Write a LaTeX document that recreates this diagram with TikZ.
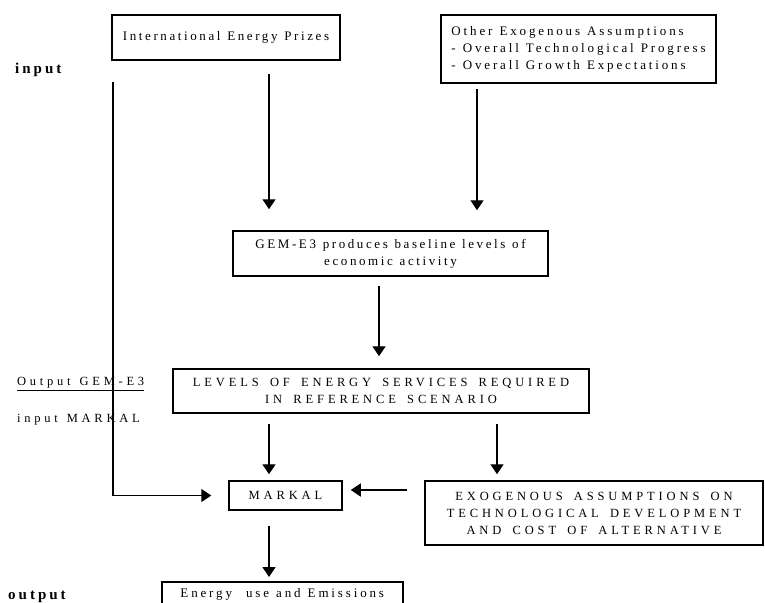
\documentclass[tikz,border=0pt]{standalone}
\usepackage{fontspec}
\setmainfont{Liberation Serif}
\newfontfamily\lsa{Liberation Serif}[LetterSpace=20,WordSpace=1.15]
\newfontfamily\lsb{Liberation Serif}[LetterSpace=22,WordSpace=1.15]
\newfontfamily\lsc{Liberation Serif}[LetterSpace=31,WordSpace=1.6]
\newfontfamily\lsl{Liberation Serif}[LetterSpace=30,WordSpace=1.3]
\usetikzlibrary{arrows.meta}
\begin{document}
\begin{tikzpicture}[x=1pt,y=-1pt,
  box/.style={draw,line width=1.5pt,inner sep=0pt,align=center,font=\lsa\fontsize{13}{17}\selectfont},
  capbox/.style={box,font=\lsc\fontsize{12.5}{17}\selectfont},
  arr/.style={line width=1.4pt,-{Triangle[width=13pt,length=10pt]}},
  lab/.style={anchor=west,inner sep=0pt,font=\lsl\fontsize{12.5}{17}\selectfont},
  blab/.style={anchor=west,inner sep=0pt,font=\lsa\fontsize{15}{17}\selectfont\bfseries}]
\useasboundingbox (0,0) rectangle (765,602);
\node[box,minimum width=228pt,minimum height=45pt] (b1) at (226,37.5) {International Energy Prizes};
\node[box,minimum width=275pt,minimum height=68pt,align=left,font=\lsb\fontsize{13}{17}\selectfont] (b2) at (578.5,49)
  {Other Exogenous Assumptions\\- Overall Technological Progress\hspace*{10pt}\\- Overall Growth Expectations};
\node[box,minimum width=315pt,minimum height=45pt] (b3) at (390.5,253.5) {GEM-E3 produces baseline levels of\\economic activity};
\node[capbox,minimum width=416pt,minimum height=44pt] (b4) at (381,391) {LEVELS OF ENERGY SERVICES REQUIRED\\IN REFERENCE SCENARIO};
\node[capbox,minimum width=113pt,minimum height=29pt] (mk) at (285.5,495.5) {MARKAL};
\node[capbox,minimum width=338pt,minimum height=64pt] (ex) at (594,513) {EXOGENOUS ASSUMPTIONS ON\\TECHNOLOGICAL DEVELOPMENT\\AND COST OF ALTERNATIVE};
\node[box,minimum width=241pt,anchor=north west,inner ysep=7pt,text height=9pt,text depth=30pt,font=\lsb\fontsize{13}{17}\selectfont] (out) at (161,581) {Energy\ \ use and Emissions};
\node[blab] (inp) at (15,70) {input};
\node[lab] (og) at (17,384) {\underline{Output GEM-E3}};
\node[lab] (im) at (17,420) {input MARKAL};
\node[blab] (op) at (8,597) {output};
% connectors
\draw[arr,shorten <=13pt,shorten >=21pt] ([xshift=43pt]b1.south) -- ([xshift=43pt]b1.south |- b3.north);
\draw[arr,shorten <=5pt,shorten >=20pt] ([xshift=-101.5pt]b2.south) -- ([xshift=-101.5pt]b2.south |- b3.north);
\draw[arr,shorten <=9pt,shorten >=12pt] ([xshift=-11.5pt]b3.south) -- ([xshift=-11.5pt]b3.south |- b4.north);
\draw[arr,shorten <=10pt,shorten >=6pt] ([xshift=-112pt]b4.south) -- ([xshift=-112pt]b4.south |- mk.north);
\draw[arr,shorten <=10pt,shorten >=6pt] ([xshift=116pt]b4.south) -- ([xshift=116pt]b4.south |- ex.north);
\coordinate (h) at ([yshift=5.5pt]mk.east);
\draw[arr,shorten <=17pt,shorten >=8pt] (h -| ex.west) -- (h);
\draw[arr,shorten <=15pt,shorten >=4pt] ([xshift=-16.5pt]mk.south) -- ([xshift=-16.5pt]mk.south |- out.north);
\draw[arr,line width=1.6pt,shorten >=17pt] ([xshift=1.5pt,yshift=-21pt]b1.south west) |- (mk.west);
\end{tikzpicture}
\end{document}
